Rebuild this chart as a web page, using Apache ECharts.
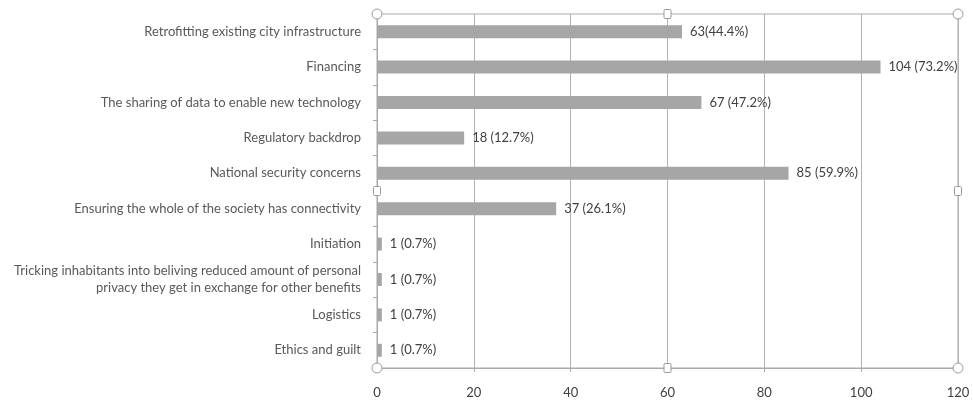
<!DOCTYPE html>
<html>
<head>
<meta charset="utf-8">
<script src="https://cdn.jsdelivr.net/npm/echarts@6/dist/echarts.min.js"></script>
<style>
  html, body { margin: 0; padding: 0; background: #fff; }
  #chart { width: 973px; height: 402px; }
</style>
</head>
<body>
<div id="chart"></div>
<script>
// categories, top to bottom
const categories = [
  'Retrofitting existing city infrastructure',
  'Financing',
  'The sharing of data to enable new technology',
  'Regulatory backdrop',
  'National security concerns',
  'Ensuring the whole of the society has connectivity',
  'Initiation',
  'Tricking inhabitants into beliving reduced amount of personal\nprivacy they get in exchange for other benefits',
  'Logistics',
  'Ethics and guilt'
];
const counts = [63, 104, 67, 18, 85, 37, 1, 1, 1, 1];
const valueLabels = [
  '63(44.4%)', '104 (73.2%)', '67 (47.2%)', '18 (12.7%)', '85 (59.9%)',
  '37 (26.1%)', '1 (0.7%)', '1 (0.7%)', '1 (0.7%)', '1 (0.7%)'
];
const xTicks = [0, 20, 40, 60, 80, 100, 120];

const GRID = { left: 377, top: 14, right: 15, bottom: 34 };
const FONT = 'Lato, "Liberation Sans", sans-serif';

const myChart = echarts.init(document.getElementById('chart'));

const option = {
  animation: false,
  grid: {
    left: GRID.left,
    top: GRID.top,
    right: GRID.right,
    bottom: GRID.bottom,
    show: true,
    borderColor: '#a9a9a9',
    borderWidth: 1
  },
  xAxis: {
    type: 'value',
    min: xTicks[0],
    max: xTicks[xTicks.length - 1],
    interval: 20,
    axisLine: { show: true, lineStyle: { color: '#a9a9a9' } },
    axisTick: { show: true, length: 4, lineStyle: { color: '#a9a9a9' } },
    axisLabel: { color: '#404040', fontSize: 13, fontFamily: FONT, margin: 18 },
    splitLine: { show: true, lineStyle: { color: '#b3b3b3' } }
  },
  yAxis: {
    type: 'category',
    inverse: true,
    data: categories,
    axisLine: { show: true, lineStyle: { color: '#a9a9a9' } },
    axisTick: { show: true, length: 4, lineStyle: { color: '#a9a9a9' } },
    axisLabel: {
      color: '#595959',
      fontSize: 13,
      fontFamily: FONT,
      margin: 16,
      lineHeight: 17,
      align: 'right'
    },
    splitLine: { show: false }
  },
  series: [
    {
      type: 'bar',
      data: counts,
      barWidth: 13,
      itemStyle: { color: '#a6a6a6' },
      label: {
        show: true,
        position: 'right',
        distance: 8,
        color: '#404040',
        fontSize: 13,
        fontFamily: FONT,
        formatter: (p) => valueLabels[p.dataIndex]
      }
    }
  ]
};
myChart.setOption(option);

// selection handles around the plot frame (decoration from the source screenshot)
const x0 = GRID.left, x1 = 973 - GRID.right, xm = (x0 + x1) / 2;
const y0 = GRID.top, y1 = 402 - GRID.bottom, ym = (y0 + y1) / 2;
const handleStyle = { fill: '#fff', stroke: '#9a9a9a', lineWidth: 1 };
const circle = (x, y) => ({ type: 'circle', shape: { cx: x, cy: y, r: 5 }, style: handleStyle, z: 100 });
const square = (x, y) => ({ type: 'rect', shape: { x: x - 3.5, y: y - 4.5, width: 7, height: 9, r: 1 }, style: handleStyle, z: 100 });
myChart.setOption({
  graphic: [
    circle(x0, y0), circle(x1, y0), circle(x0, y1), circle(x1, y1),
    square(xm, y0), square(xm, y1), square(x0, ym), square(x1, ym)
  ]
});
</script>
</body>
</html>
